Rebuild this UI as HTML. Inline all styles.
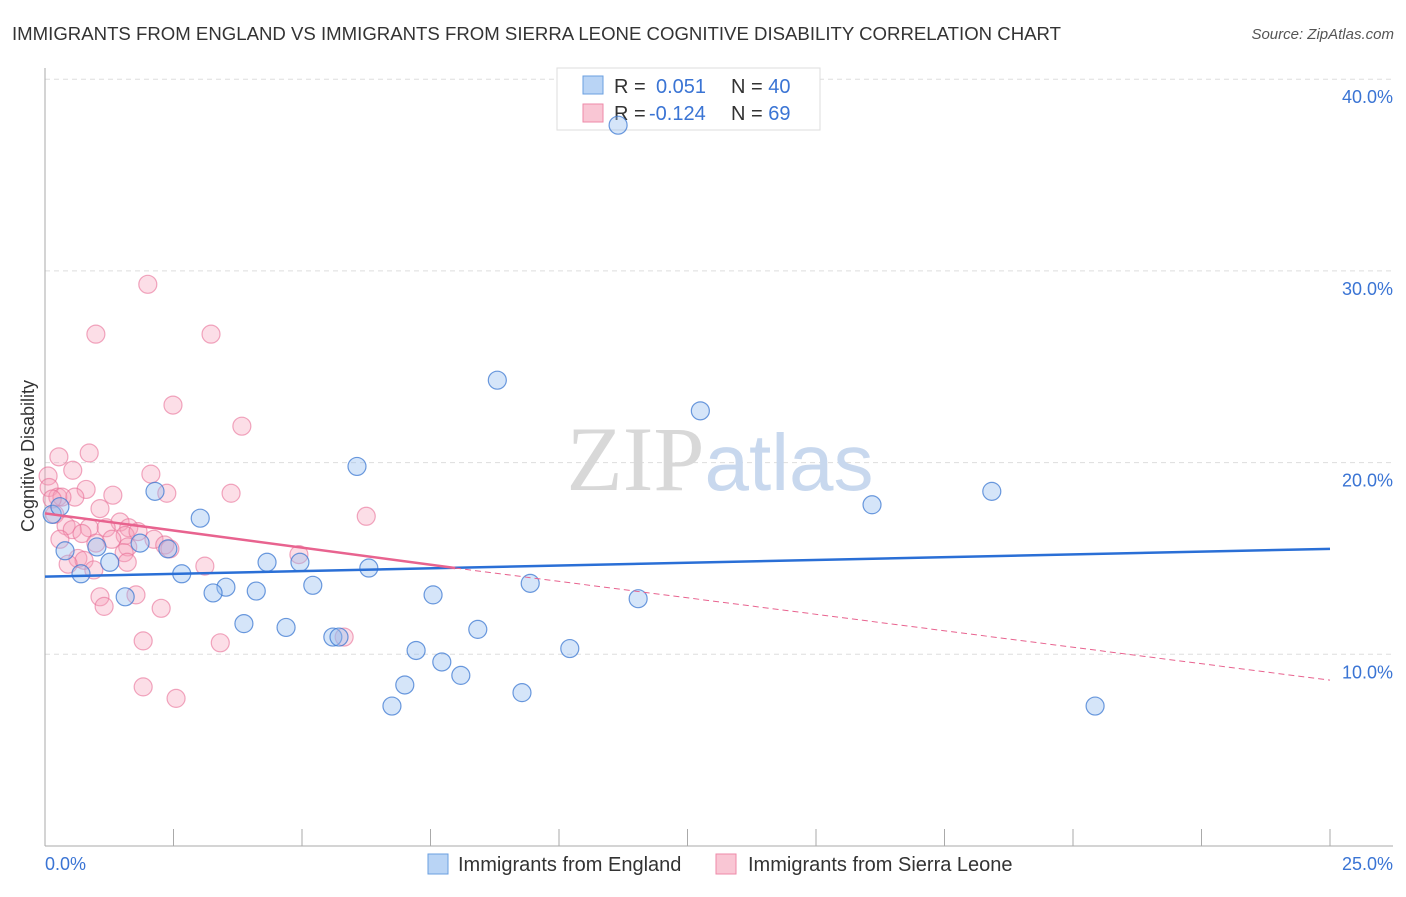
<!DOCTYPE html>
<html><head><meta charset="utf-8"><style>
body{margin:0;background:#fff;font-family:"Liberation Sans",sans-serif;}
svg text{font-family:"Liberation Sans",sans-serif;}
</style></head><body>
<svg id="chart" width="1406" height="892" viewBox="0 0 1406 892">
<text x="12" y="40" font-size="18" fill="#333" textLength="1049" lengthAdjust="spacingAndGlyphs">IMMIGRANTS FROM ENGLAND VS IMMIGRANTS FROM SIERRA LEONE COGNITIVE DISABILITY CORRELATION CHART</text>
<text x="1394" y="39" font-size="15" fill="#555" text-anchor="end" font-style="italic">Source: ZipAtlas.com</text>
<g id="grid"></g>
<text x="720" y="490" font-size="92" text-anchor="middle" fill="#ddd"><tspan font-family="Liberation Serif" fill="#d8d8d8">ZIP</tspan><tspan fill="#c8d8ee" font-size="80">atlas</tspan></text>
<text transform="translate(34,456) rotate(-90)" font-size="18" fill="#333" text-anchor="middle">Cognitive Disability</text>
<g>
<rect x="557" y="68" width="263" height="62" fill="#fff" stroke="#ddd"/>
<rect x="583" y="76" width="20" height="18" fill="#b9d4f5" stroke="#6a9fe0"/>
<rect x="583" y="104" width="20" height="18" fill="#f9c6d4" stroke="#ee8aa8"/>
<text x="614" y="93" font-size="20" fill="#333">R = <tspan x="656" fill="#3a74d4">0.051</tspan><tspan x="731">N = </tspan><tspan fill="#3a74d4">40</tspan></text>
<text x="614" y="120" font-size="20" fill="#333">R = <tspan x="649" fill="#3a74d4">-0.124</tspan><tspan x="731">N = </tspan><tspan fill="#3a74d4">69</tspan></text>
</g>
<g id="points"></g>
<g id="trends"></g>
<text x="45" y="870" font-size="18" fill="#3a74d4">0.0%</text>
<text x="1393" y="870" font-size="18" fill="#3a74d4" text-anchor="end">25.0%</text>
<g><rect x="428" y="854" width="20" height="20" fill="#b9d4f5" stroke="#6a9fe0"/><text x="458" y="871" font-size="20" fill="#333">Immigrants from England</text></g>
<g><rect x="716" y="854" width="20" height="20" fill="#f9c6d4" stroke="#ee8aa8"/><text x="748" y="871" font-size="20" fill="#333">Immigrants from Sierra Leone</text></g>
</svg>
<script>
const yTicks=[10,20,30,40];
const xTicks=[0,2.5,5,7.5,10,12.5,15,17.5,20,22.5,25];
const englandX=[11.15,8.8,12.75,6.07,2.14,16.09,18.42,3.02,0.14,0.29,0.39,1.85,2.39,1.01,1.26,0.7,2.66,4.32,4.96,6.3,9.44,5.21,3.52,4.11,3.27,7.55,1.56,11.54,3.87,4.69,8.42,5.6,5.72,10.21,7.22,7.72,8.09,7.0,9.28,6.75,20.43];
const englandY=[37.6,24.3,22.7,19.8,18.5,17.8,18.5,17.1,17.3,17.7,15.4,15.8,15.5,15.6,14.8,14.2,14.2,14.8,14.8,14.5,13.7,13.6,13.5,13.3,13.2,13.1,13.0,12.9,11.6,11.4,11.3,10.9,10.9,10.3,10.2,9.6,8.9,8.4,8.0,7.3,7.3];
const sierraX=[2.0,0.99,3.23,2.49,3.83,0.86,0.27,0.54,2.06,0.06,0.08,0.25,0.8,1.32,2.37,3.62,0.58,0.33,0.14,1.07,0.19,6.25,0.41,1.46,1.19,0.86,1.63,1.56,1.81,0.53,0.72,0.29,2.12,0.99,4.94,1.61,2.33,1.54,0.64,0.76,0.45,3.11,1.6,0.95,1.07,1.77,1.15,2.26,1.91,3.41,5.82,1.91,2.55,2.43,1.3];
const sierraY=[29.3,26.7,26.7,23.0,21.9,20.5,20.3,19.6,19.4,19.3,18.7,18.2,18.6,18.3,18.4,18.4,18.2,18.2,18.1,17.6,17.3,17.2,16.7,16.9,16.6,16.6,16.6,16.2,16.4,16.5,16.3,16.0,16.0,15.8,15.2,15.6,15.7,15.3,15.0,14.9,14.7,14.6,14.8,14.4,13.0,13.1,12.5,12.4,10.7,10.6,10.9,8.3,7.7,15.5,16.0];
const X=v=>45+v*(1285/25), Y=v=>846-v*19.17;
const NS="http://www.w3.org/2000/svg";
function mk(t,a,p){const e=document.createElementNS(NS,t);for(const k in a)e.setAttribute(k,a[k]);p.appendChild(e);return e;}
const grid=document.getElementById('grid');
yTicks.forEach(t=>{
 const l=mk('line',{x1:45,x2:1393,y1:Y(t),y2:Y(t),stroke:'#ddd','stroke-dasharray':'5,4'},grid);
 
 
 const tx=mk('text',{x:1393,y:Y(t)+24,'font-size':18,fill:'#3a74d4','text-anchor':'end'},grid);
 tx.textContent=t.toFixed(1)+'%';
 
 
});
const ax=mk('line',{x1:45,x2:45,y1:68,y2:846,stroke:'#aaa'},grid);


const bx=mk('line',{x1:45,x2:1393,y1:846,y2:846,stroke:'#aaa'},grid);


xTicks.forEach(t=>{
 const l=mk('line',{x1:X(t),x2:X(t),y1:829,y2:846,stroke:'#aaa'},grid);
 
 
});
const pts=document.getElementById('points');
sierraX.forEach((v,i)=>{
 const c=mk('circle',{cx:X(v),cy:Y(sierraY[i]),r:9,fill:'rgba(246,160,185,0.35)',stroke:'rgba(232,110,150,0.6)','stroke-width':1.2},pts);
 
 
});
englandX.forEach((v,i)=>{
 const c=mk('circle',{cx:X(v),cy:Y(englandY[i]),r:9,fill:'rgba(150,190,240,0.4)',stroke:'rgba(60,120,210,0.75)','stroke-width':1.2},pts);
 
 
});
const tr=document.getElementById('trends');
const b=mk('line',{x1:X(0),y1:Y(14.05),x2:X(25),y2:Y(15.5),stroke:'#2a6fd6','stroke-width':2.5},tr);


const p1=mk('line',{x1:X(0),y1:Y(17.35),x2:X(7.98),y2:Y(14.5),stroke:'#e8638f','stroke-width':2.5},tr);


const p2=mk('line',{x1:X(7.98),y1:Y(14.5),x2:X(25),y2:Y(8.65),stroke:'#e8638f','stroke-width':1,'stroke-dasharray':'6,4'},tr);


</script>
</body></html>
